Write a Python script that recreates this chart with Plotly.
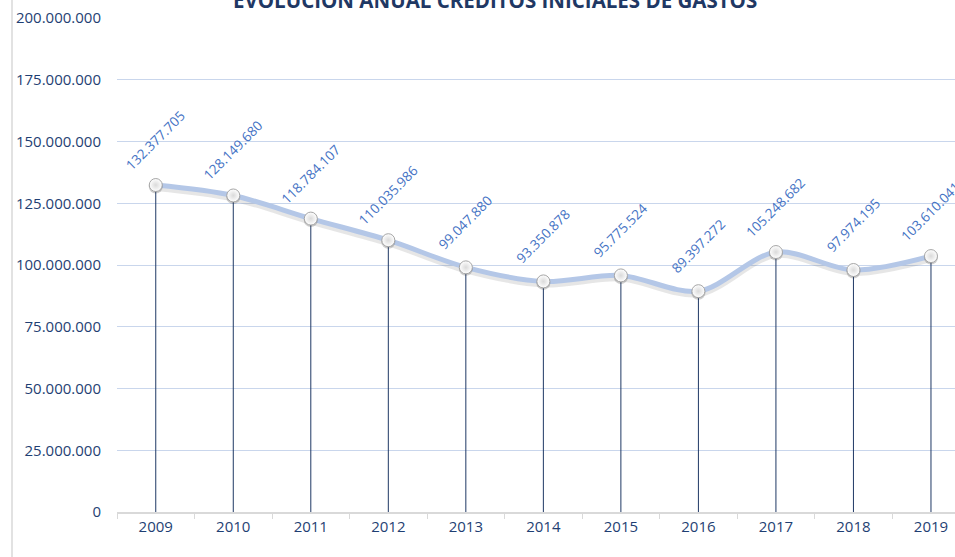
import plotly.graph_objects as go

years = ["2009", "2010", "2011", "2012", "2013", "2014", "2015", "2016", "2017", "2018", "2019"]
creditos = [132377705, 128149680, 118784107, 110035986, 99047880, 93350878,
            95775524, 89397272, 105248682, 97974195, 103610041]
title_text = "EVOLUCIÓN ANUAL CRÉDITOS INICIALES DE GASTOS"

FONT = "Open Sans"
AXIS_COLOR = "#1F3F73"
LABEL_COLOR = "#4472C4"

W, H = 955, 557
ML, MR, MT, MB = 117, 0, 18, 45
y_max = 200000000
PW = W - ML - MR
PH = H - MT - MB
px_per_unit = PH / y_max

fig = go.Figure()

# drop lines
dx, dy = [], []
for yr, v in zip(years, creditos):
    dx += [yr, yr, None]
    dy += [v, 0, None]
fig.add_trace(go.Scatter(x=dx, y=dy, mode="lines",
                         line=dict(color="#1F3864", width=1),
                         hoverinfo="skip", showlegend=False))

# shadow of the line
shadow_off = 3 / px_per_unit
fig.add_trace(go.Scatter(x=years, y=[v - shadow_off for v in creditos], mode="lines",
                         line=dict(color="rgba(90,90,90,0.15)", width=6, shape="spline", smoothing=0.9),
                         hoverinfo="skip", showlegend=False))

# main line
fig.add_trace(go.Scatter(x=years, y=creditos, mode="lines",
                         line=dict(color="#B4C7E7", width=5, shape="spline", smoothing=0.9),
                         showlegend=False))

# marker shadow
fig.add_trace(go.Scatter(x=years, y=[v - 1.5 / px_per_unit for v in creditos], mode="markers",
                         marker=dict(size=14, color="rgba(60,60,60,0.25)", line=dict(width=0)),
                         hoverinfo="skip", showlegend=False))
# markers
fig.add_trace(go.Scatter(x=years, y=creditos, mode="markers",
                         marker=dict(size=13, color="white",
                                     gradient=dict(type="radial", color="#DADADA"),
                                     line=dict(color="#A6A6A6", width=1)),
                         showlegend=False))

# data labels
for i, v in enumerate(creditos):
    fig.add_annotation(x=i, y=v, xref="x", yref="y", text=f"{v:,}".replace(",", "."),
                       textangle=-45, showarrow=False, yshift=45,
                       font=dict(family=FONT, size=13.5, color=LABEL_COLOR))

# title (cut off at top)
fig.add_annotation(xref="paper", yref="paper", x=0.451, y=1, yanchor="middle",
                   yshift=18, text=f"<b>{title_text}</b>", showarrow=False,
                   font=dict(family=FONT, size=20.5, color="#1F3864"))

# left border line
fig.add_shape(type="line", xref="paper", yref="paper",
              x0=(12 - ML) / PW, x1=(12 - ML) / PW,
              y0=-MB / PH, y1=1 + MT / PH,
              line=dict(color="#D9D9D9", width=1.5))

fig.update_layout(
    width=W, height=H,
    margin=dict(l=ML, r=MR, t=MT, b=MB),
    paper_bgcolor="white", plot_bgcolor="white",
    separators=",.",
    font=dict(family=FONT, color=AXIS_COLOR),
)
fig.update_xaxes(type="category", range=[-0.5, 10.31], showgrid=False,
                 showline=True, linecolor="#D9D9D9", linewidth=1.5,
                 ticks="outside", tickson="boundaries", ticklen=5, tickcolor="#D9D9D9",
                 tickfont=dict(family=FONT, size=15, color=AXIS_COLOR))
fig.update_yaxes(range=[0, y_max], dtick=25000000, tickformat=",d",
                 showgrid=True, gridcolor="#C9D6EC", gridwidth=1, zeroline=False,
                 ticklabelstandoff=15,
                 tickfont=dict(family=FONT, size=15, color=AXIS_COLOR))

fig.write_html("out.html", config={"displayModeBar": False},
               post_script="document.body.style.margin='0px';document.body.style.overflow='hidden';")
